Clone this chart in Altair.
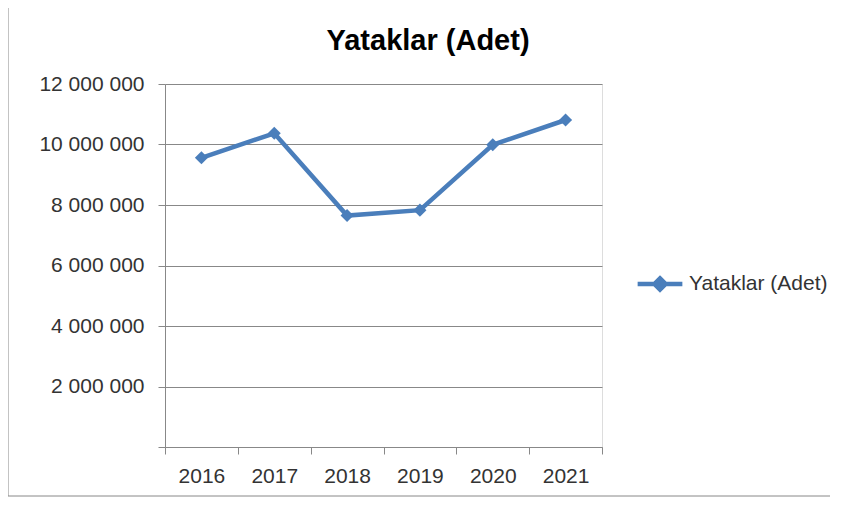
import altair as alt
import pandas as pd

years = ["2016", "2017", "2018", "2019", "2020", "2021"]
values = [9560000, 10370000, 7650000, 7830000, 9990000, 10810000]
series_name = "Yataklar (Adet)"
chart_title = "Yataklar (Adet)"

df = pd.DataFrame({"year": years, "value": values, "series": [series_name] * len(years)})

FONT = "Liberation Sans"
BLUE = "#4A7EBB"
GRAY = "#888888"

label_expr = ("datum.value == 0 ? '' : "
              "replace(replace(format(datum.value, ','), ',', ' '), ',', ' ')")

base = alt.Chart(df).encode(
    x=alt.X("year:O", bandPosition=0.5,
            scale=alt.Scale(type="band", paddingInner=0, paddingOuter=0),
            axis=alt.Axis(title=None, labelAngle=0, tickBand="extent", grid=False,
                          domainColor=GRAY, tickColor=GRAY, tickSize=7,
                          labelFont=FONT, labelFontSize=21, labelColor="#333333",
                          labelPadding=11)),
    y=alt.Y("value:Q", scale=alt.Scale(domain=[0, 12000000], nice=False),
            axis=alt.Axis(title=None, values=[0, 2e6, 4e6, 6e6, 8e6, 10e6, 12e6],
                          labelExpr=label_expr, grid=True, gridColor=GRAY,
                          domainColor=GRAY, tickColor=GRAY, tickSize=7,
                          labelFont=FONT, labelFontSize=21, labelColor="#333333",
                          labelPadding=14)),
    color=alt.Color("series:N", scale=alt.Scale(range=[BLUE]),
                    legend=alt.Legend(title=None, orient="none", legendX=470, legendY=175,
                                      symbolType="M-1,0H1M0,-0.25L0.25,0L0,0.25L-0.25,0Z",
                                      symbolSize=2000, symbolStrokeWidth=4.5,
                                      symbolFillColor=BLUE, symbolStrokeColor=BLUE,
                                      labelFont=FONT, labelFontSize=21, labelColor="#333333",
                                      labelOffset=4)),
)

line = base.mark_line(strokeWidth=4.5,
                      point=alt.OverlayMarkDef(shape="diamond", size=170, filled=True, color=BLUE))

title_df = pd.DataFrame({"t": [chart_title]})
title = alt.Chart(title_df).mark_text(font=FONT, fontSize=29, fontWeight="bold", color="#000000",
                                      align="center", baseline="alphabetic").encode(
    text="t:N", x=alt.value(263), y=alt.value(-34))

border_df = pd.DataFrame({"a": [0]})
left_border = alt.Chart(border_df).mark_rule(color=GRAY, strokeWidth=1).encode(
    x=alt.value(-157), y=alt.value(-76), y2=alt.value(412))
bottom_border = alt.Chart(border_df).mark_rule(color=GRAY, strokeWidth=1).encode(
    x=alt.value(-157), x2=alt.value(665), y=alt.value(412))

chart = alt.layer(line, title, left_border, bottom_border).properties(
    width=437, height=363,
    autosize=alt.AutoSizeParams(type="none"),
    padding={"left": 157, "top": 76, "right": 228, "bottom": 50},
).configure_view(stroke=None).configure(background="white")

chart.save("out.html", embed_options={"renderer": "svg", "actions": False})
